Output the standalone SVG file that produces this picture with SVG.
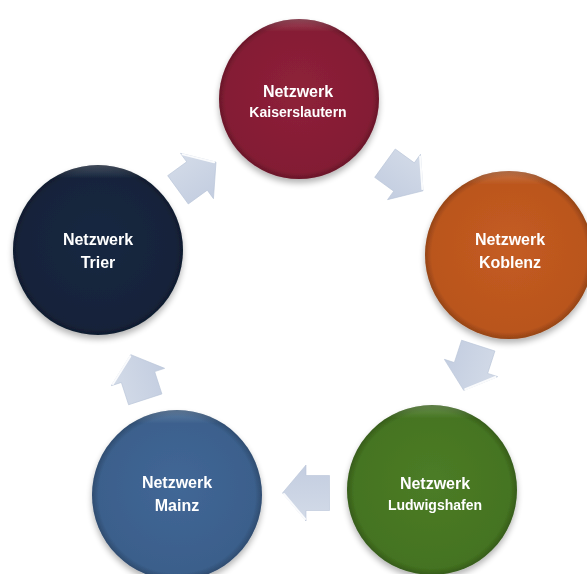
<svg xmlns="http://www.w3.org/2000/svg" width="587" height="574" viewBox="0 0 587 574">
<defs>
<style>
.lbl{font-family:"Liberation Sans",Arial,sans-serif;font-weight:bold;fill:#fff;text-anchor:middle}
.big{font-size:16px}
.small{font-size:14px}
.arr{fill:url(#ag);stroke:#b8c4d8;stroke-width:0.6}
.hl{fill:none;stroke:#fff;stroke-width:2;stroke-linecap:round;opacity:0.9}
</style>
<filter id="sh" x="-20%" y="-20%" width="140%" height="150%">
<feGaussianBlur in="SourceAlpha" stdDeviation="3"/>
<feOffset dy="4" result="b"/>
<feComponentTransfer><feFuncA type="linear" slope="0.3"/></feComponentTransfer>
<feMerge><feMergeNode/><feMergeNode in="SourceGraphic"/></feMerge>
</filter>
<radialGradient id="bev" cx="0.5" cy="0.5" r="0.5">
<stop offset="0.92" stop-color="#000" stop-opacity="0"/>
<stop offset="1" stop-color="#000" stop-opacity="0.2"/>
</radialGradient>
<linearGradient id="top" x1="0" y1="0" x2="0" y2="1">
<stop offset="0" stop-color="#fff" stop-opacity="0.2"/>
<stop offset="0.08" stop-color="#fff" stop-opacity="0"/>
<stop offset="1" stop-color="#fff" stop-opacity="0"/>
</linearGradient>
<radialGradient id="gK" cx="0.5" cy="0.45" r="0.55"><stop offset="0" stop-color="#8e2139"/><stop offset="1" stop-color="#821c33"/></radialGradient>
<radialGradient id="gKo" cx="0.5" cy="0.45" r="0.55"><stop offset="0" stop-color="#c45c22"/><stop offset="1" stop-color="#b8541c"/></radialGradient>
<radialGradient id="gL" cx="0.5" cy="0.45" r="0.55"><stop offset="0" stop-color="#4c7c26"/><stop offset="1" stop-color="#437220"/></radialGradient>
<radialGradient id="gM" cx="0.5" cy="0.45" r="0.55"><stop offset="0" stop-color="#416796"/><stop offset="1" stop-color="#3a5e8a"/></radialGradient>
<radialGradient id="gT" cx="0.5" cy="0.45" r="0.55"><stop offset="0" stop-color="#182841"/><stop offset="1" stop-color="#142239"/></radialGradient>
<linearGradient id="ag" x1="0" y1="0" x2="0" y2="1">
<stop offset="0" stop-color="#d3dbe8"/><stop offset="1" stop-color="#c3cde0"/>
</linearGradient>
<g id="arrow">
<path class="arr" d="M-23.5,-17.5 H0 V-28 L23.5,0 L0,28 V17.5 H-23.5 Z"/>
<path class="hl" d="M1,-26 L22,-1"/>
</g>
</defs>
<g id="connectors">
<use href="#arrow" transform="translate(197,176) rotate(-36)"/>
<use href="#arrow" transform="translate(404,177) rotate(36)"/>
<use href="#arrow" transform="translate(471,368) rotate(108)"/>
<use href="#arrow" transform="translate(306,493) rotate(180)"/>
<use href="#arrow" transform="translate(138,377) rotate(-108)"/>
</g>
<g id="kaiserslautern" filter="url(#sh)">
<circle cx="299" cy="99" r="80" fill="url(#gK)"/>
<circle cx="299" cy="99" r="80" fill="url(#bev)"/>
<circle cx="299" cy="99" r="80" fill="url(#top)"/>
<text class="lbl big" x="298" y="97">Netzwerk</text>
<text class="lbl small" x="298" y="117">Kaiserslautern</text>
</g>
<g id="koblenz" filter="url(#sh)">
<circle cx="509" cy="255" r="84" fill="url(#gKo)"/>
<circle cx="509" cy="255" r="84" fill="url(#bev)"/>
<circle cx="509" cy="255" r="84" fill="url(#top)"/>
<text class="lbl big" x="510" y="245">Netzwerk</text>
<text class="lbl big" x="510" y="268">Koblenz</text>
</g>
<g id="ludwigshafen" filter="url(#sh)">
<circle cx="432" cy="490" r="85" fill="url(#gL)"/>
<circle cx="432" cy="490" r="85" fill="url(#bev)"/>
<circle cx="432" cy="490" r="85" fill="url(#top)"/>
<text class="lbl big" x="435" y="489">Netzwerk</text>
<text class="lbl small" x="435" y="510">Ludwigshafen</text>
</g>
<g id="mainz" filter="url(#sh)">
<circle cx="177" cy="495" r="85" fill="url(#gM)"/>
<circle cx="177" cy="495" r="85" fill="url(#bev)"/>
<circle cx="177" cy="495" r="85" fill="url(#top)"/>
<text class="lbl big" x="177" y="488">Netzwerk</text>
<text class="lbl big" x="177" y="511">Mainz</text>
</g>
<g id="trier" filter="url(#sh)">
<circle cx="98" cy="250" r="85" fill="url(#gT)"/>
<circle cx="98" cy="250" r="85" fill="url(#bev)"/>
<circle cx="98" cy="250" r="85" fill="url(#top)"/>
<text class="lbl big" x="98" y="245">Netzwerk</text>
<text class="lbl big" x="98" y="268">Trier</text>
</g>
</svg>
